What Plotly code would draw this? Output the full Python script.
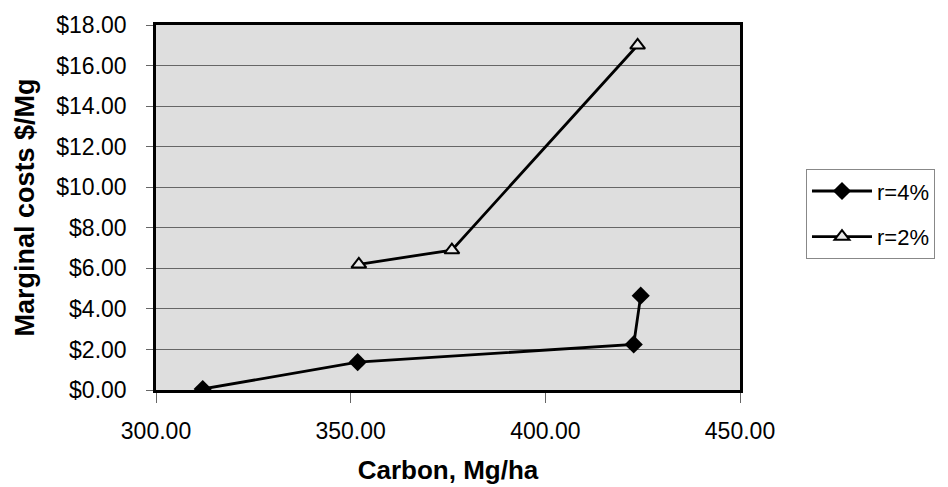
import plotly.graph_objects as go

carbon_r4 = [312.0, 351.8, 422.7, 424.5]
cost_r4 = [0.05, 1.37, 2.25, 4.65]
carbon_r2 = [352.1, 376.0, 423.7]
cost_r2 = [6.2, 6.9, 17.0]
series_names = ["r=4%", "r=2%"]

fig = go.Figure()
fig.add_trace(go.Scatter(x=carbon_r4, y=cost_r4, name=series_names[0], mode="lines+markers",
                         legendgroup="a",
                         line=dict(color="black", width=2.8),
                         marker=dict(symbol="diamond", size=14, color="black")))
fig.add_trace(go.Scatter(x=carbon_r2, y=cost_r2, name=series_names[1], mode="lines+markers",
                         legendgroup="b",
                         line=dict(color="black", width=2.8),
                         marker=dict(symbol="triangle-up", size=13, color="#e8e8e8",
                                     line=dict(color="black", width=2))))

fig.update_layout(
    width=948, height=487,
    margin=dict(l=156, r=208, t=25, b=97, autoexpand=False),
    paper_bgcolor="white", plot_bgcolor="#dedede",
    font=dict(family="Liberation Sans, Arial", size=23, color="black"),
    showlegend=True,
    legend=dict(x=1.113, y=0.605, xanchor="left", yanchor="top",
                bordercolor="#888", borderwidth=1, bgcolor="white",
                font=dict(size=22), traceorder="grouped", tracegroupgap=14,
                itemwidth=60, entrywidth=86),
    xaxis=dict(range=[300, 450], tickvals=[300, 350, 400, 450], tickformat=".2f",
               showgrid=False, zeroline=False, showline=True, linecolor="black", linewidth=2.5,
               mirror=True, ticks="outside", ticklen=10, tickcolor="#666", tickwidth=1,
               ticklabelstandoff=9, automargin=False,
               title=dict(text="<b>Carbon, Mg/ha</b>", font=dict(size=26), standoff=18)),
    yaxis=dict(range=[0, 18], dtick=2, tickformat="$.2f",
               showgrid=True, gridcolor="#666", gridwidth=1, zeroline=False,
               showline=True, linecolor="black", linewidth=2.5, mirror=True,
               ticks="outside", ticklen=7, tickcolor="#666", tickwidth=1,
               ticklabelstandoff=15, automargin=False,
               title=dict(text="<b>Marginal costs $/Mg</b>\u00a0\u00a0\u00a0", font=dict(size=27), standoff=14)),
)

fig.write_html("out.html")
